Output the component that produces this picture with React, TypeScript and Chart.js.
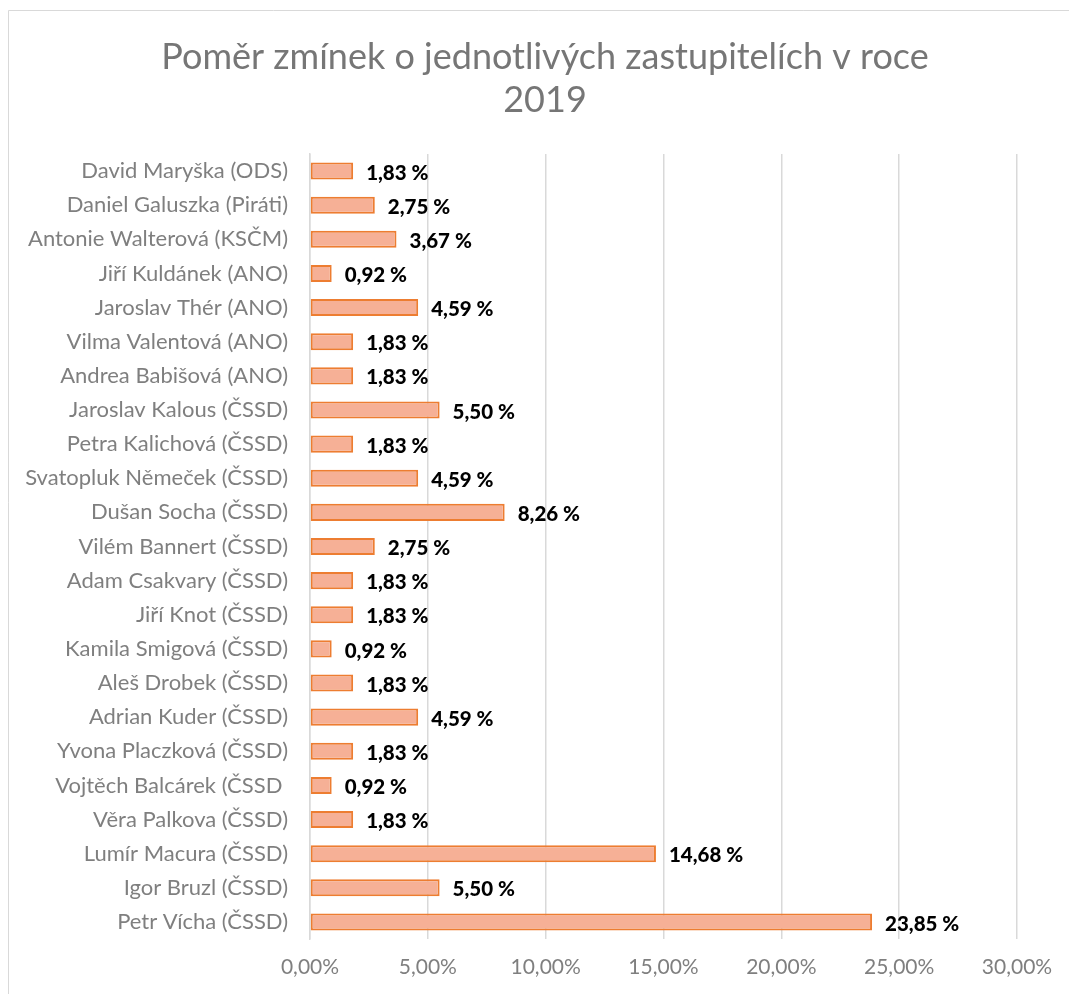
import React, { useEffect, useRef } from "react";
import { Chart, registerables } from "chart.js";

Chart.register(...registerables);

const categories = [
  "David Maryška (ODS)",
  "Daniel Galuszka (Piráti)",
  "Antonie Walterová (KSČM)",
  "Jiří Kuldánek (ANO)",
  "Jaroslav Thér (ANO)",
  "Vilma Valentová (ANO)",
  "Andrea Babišová (ANO)",
  "Jaroslav Kalous (ČSSD)",
  "Petra Kalichová (ČSSD)",
  "Svatopluk Němeček (ČSSD)",
  "Dušan Socha (ČSSD)",
  "Vilém Bannert (ČSSD)",
  "Adam Csakvary (ČSSD)",
  "Jiří Knot (ČSSD)",
  "Kamila Smigová (ČSSD)",
  "Aleš Drobek (ČSSD)",
  "Adrian Kuder (ČSSD)",
  "Yvona Placzková (ČSSD)",
  "Vojtěch Balcárek (ČSSD ",
  "Věra Palkova (ČSSD)",
  "Lumír Macura (ČSSD)",
  "Igor Bruzl (ČSSD)",
  "Petr Vícha (ČSSD)",
];

const shares = [
  1.83, 2.75, 3.67, 0.92, 4.59, 1.83, 1.83, 5.5, 1.83, 4.59, 8.26, 2.75, 1.83,
  1.83, 0.92, 1.83, 4.59, 1.83, 0.92, 1.83, 14.68, 5.5, 23.85,
];

const titleLines = ["Poměr zmínek o jednotlivých zastupitelích v roce", "2019"];

const FONT = "Lato, 'Open Sans', sans-serif";
const GRAY = "#7f7f7f";

const fmt = (v: number) => v.toFixed(2).replace(".", ",");

export default function App() {
  const ref = useRef<HTMLCanvasElement>(null);

  useEffect(() => {
    if (!ref.current) return;
    const decor = {
      id: "decor",
      beforeDraw(chart: any) {
        const ctx = chart.ctx;
        ctx.save();
        ctx.fillStyle = "#ffffff";
        ctx.fillRect(0, 0, chart.width, chart.height);
        ctx.strokeStyle = "#d9d9d9";
        ctx.lineWidth = 1;
        ctx.beginPath();
        ctx.moveTo(8.5, chart.height);
        ctx.lineTo(8.5, 10.5);
        ctx.lineTo(chart.width, 10.5);
        ctx.stroke();
        ctx.fillStyle = "#767676";
        ctx.font = `36px ${FONT}`;
        ctx.textAlign = "center";
        ctx.textBaseline = "middle";
        ctx.fillText(titleLines[0], 545, 57);
        ctx.fillText(titleLines[1], 545, 100);
        ctx.restore();
      },
      afterDatasetsDraw(chart: any) {
        const ctx = chart.ctx;
        const meta = chart.getDatasetMeta(0);
        ctx.save();
        ctx.fillStyle = "#000000";
        ctx.font = `900 20.5px ${FONT}`;
        ctx.textAlign = "left";
        ctx.textBaseline = "middle";
        meta.data.forEach((bar: any, i: number) => {
          ctx.fillText(fmt(shares[i]) + " %", bar.x + 13, bar.y + 2);
        });
        ctx.restore();
      },
    };

    const chart = new Chart(ref.current, {
      type: "bar",
      data: {
        labels: categories,
        datasets: [
          {
            data: shares,
            backgroundColor: (c: any) => {
              const el = c.chart.getDatasetMeta(0).data[c.dataIndex];
              if (!el || el.y === undefined) return "#F6B096";
              const g = c.chart.ctx.createLinearGradient(0, el.y - 9, 0, el.y + 9);
              g.addColorStop(0, "#F29A72");
              g.addColorStop(0.5, "#F8C2A8");
              g.addColorStop(1, "#F3A47F");
              return g;
            },
            borderColor: "#ED7D31",
            borderWidth: 2,
            borderSkipped: false,
            categoryPercentage: 1,
            barPercentage: 0.5,
          },
        ],
      },
      options: {
        indexAxis: "y",
        responsive: false,
        animation: false,
        devicePixelRatio: 1,
        layout: { padding: { left: 8, right: 52, top: 154, bottom: 0 } },
        plugins: {
          legend: { display: false },
          title: { display: false },
          tooltip: { enabled: false },
        },
        scales: {
          x: {
            min: 0,
            max: 30,
            afterFit: (s: any) => {
              s.height = 55;
            },
            ticks: {
              stepSize: 5,
              padding: 16,
              color: GRAY,
              font: { family: FONT, size: 21 },
              callback: (v: any) => fmt(Number(v)) + "%",
            },
            grid: { color: "#d9d9d9", lineWidth: 1.5, drawTicks: false },
            border: { display: false },
          },
          y: {
            afterFit: (s: any) => {
              s.width = 302;
            },
            ticks: {
              padding: 22,
              color: GRAY,
              font: { family: FONT, size: 22 },
              autoSkip: false,
            },
            grid: { display: false, drawTicks: false },
            border: { display: true, color: "#d9d9d9", width: 1.5 },
          },
        },
      },
      plugins: [decor],
    } as any);
    return () => chart.destroy();
  }, []);

  return (
    <div style={{ position: "fixed", left: 0, top: 0, width: 1069, height: 994 }}>
      <canvas ref={ref} width={1069} height={994} />
    </div>
  );
}
